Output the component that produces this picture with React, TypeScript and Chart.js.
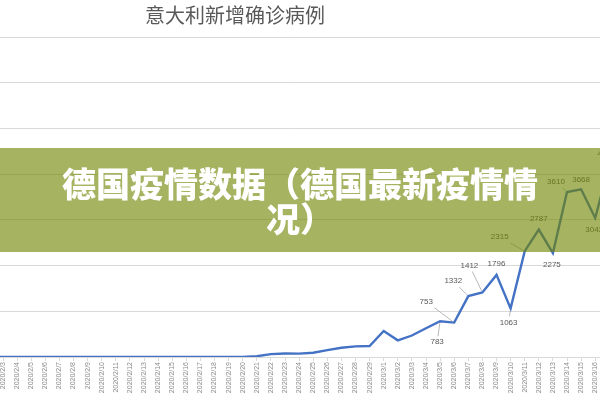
import React, { useEffect, useRef } from "react";
import { Chart, registerables } from "chart.js";

Chart.register(...registerables);

const chartTitle = "意大利新增确诊病例";
const bannerLine1 = "德国疫情数据（德国最新疫情情";
const bannerLine2 = "况）";

const dates = [
  "2020/2/1", "2020/2/2", "2020/2/3", "2020/2/4", "2020/2/5", "2020/2/6", "2020/2/7",
  "2020/2/8", "2020/2/9", "2020/2/10", "2020/2/11", "2020/2/12", "2020/2/13", "2020/2/14",
  "2020/2/15", "2020/2/16", "2020/2/17", "2020/2/18", "2020/2/19", "2020/2/20", "2020/2/21",
  "2020/2/22", "2020/2/23", "2020/2/24", "2020/2/25", "2020/2/26", "2020/2/27", "2020/2/28",
  "2020/2/29", "2020/3/1", "2020/3/2", "2020/3/3", "2020/3/4", "2020/3/5", "2020/3/6",
  "2020/3/7", "2020/3/8", "2020/3/9", "2020/3/10", "2020/3/11", "2020/3/12", "2020/3/13",
  "2020/3/14", "2020/3/15", "2020/3/16", "2020/3/17",
];

const newCases = [
  0, 0, 0, 0, 0, 0, 0,
  0, 0, 0, 0, 0, 0, 0,
  0, 0, 0, 0, 0, 0, 17,
  62, 76, 74, 93, 150, 202, 233,
  240, 570, 365, 470, 630, 783, 753,
  1332, 1412, 1796, 1063, 2315, 2787, 2275,
  3610, 3668, 3042, 4207,
];

const yTicks = [0, 1000, 2000, 3000, 4000, 5000, 6000, 7000];

// label placement (dx, dy from the point to the label centre), style only
const labelPlacement: Record<string, [number, number]> = {
  "2020/3/5": [-3, 21],
  "2020/3/6": [-28, -21],
  "2020/3/7": [-15, -15],
  "2020/3/8": [-13, -27],
  "2020/3/9": [0, -11],
  "2020/3/10": [-2, 14],
  "2020/3/11": [-25, -14],
  "2020/3/12": [0, -11],
  "2020/3/13": [-1, 12],
  "2020/3/14": [-11, -10],
  "2020/3/15": [0, -10],
  "2020/3/16": [-1, 12],
  "2020/3/17": [-3, -11],
};

const CANVAS_LEFT = -40;
const CANVAS_W = 680;
const CANVAS_H = 407;

const valueLabels = {
  id: "valueLabels",
  afterDatasetsDraw(chart: any) {
    const ctx = chart.ctx;
    const meta = chart.getDatasetMeta(0);
    ctx.save();
    ctx.font = '8px "Liberation Sans"';
    ctx.textAlign = "center";
    ctx.textBaseline = "middle";
    dates.forEach((d, i) => {
      const off = labelPlacement[d];
      if (!off) return;
      const pt = meta.data[i];
      if (!pt) return;
      const tx = pt.x + off[0];
      const ty = pt.y + off[1];
      const text = String(newCases[i]);
      const w = ctx.measureText(text).width;
      const dist = Math.hypot(off[0], off[1]);
      if (dist > 14) {
        const vx = pt.x - tx;
        const vy = pt.y - ty;
        const tX = vx !== 0 ? (w / 2 + 2) / Math.abs(vx) : Infinity;
        const tY = vy !== 0 ? 6 / Math.abs(vy) : Infinity;
        const t = Math.min(tX, tY);
        const sx = tx + vx * t;
        const sy = ty + vy * t;
        const ex = pt.x - (vx / dist) * 2;
        const ey = pt.y - (vy / dist) * 2;
        ctx.strokeStyle = "#a6a6a6";
        ctx.lineWidth = 0.8;
        ctx.beginPath();
        ctx.moveTo(sx, sy);
        ctx.lineTo(ex, ey);
        ctx.stroke();
      }
      ctx.fillStyle = "#595959";
      ctx.fillText(text, tx, ty);
    });
    ctx.restore();
  },
};

export default function App() {
  const canvasRef = useRef<HTMLCanvasElement | null>(null);

  useEffect(() => {
    if (!canvasRef.current) return;
    const chart = new Chart(canvasRef.current, {
      type: "line",
      data: {
        labels: dates,
        datasets: [
          {
            label: chartTitle,
            data: newCases,
            borderColor: "#4472C4",
            backgroundColor: "#4472C4",
            borderWidth: 2.4,
            pointRadius: 0,
            tension: 0,
            fill: false,
          },
        ],
      },
      options: {
        animation: false,
        responsive: false,
        devicePixelRatio: 1,
        layout: { padding: { left: 14.8, right: 30.7, top: 37, bottom: 0 } },
        plugins: {
          legend: { display: false },
          tooltip: { enabled: false },
          title: { display: false },
        },
        scales: {
          x: {
            grid: { drawOnChartArea: false, drawTicks: true, tickLength: 4, color: "#d9d9d9" },
            border: { color: "#d9d9d9" },
            ticks: {
              autoSkip: false,
              minRotation: 90,
              maxRotation: 90,
              padding: 1,
              color: "#8c8c8c",
              font: { size: 7, family: "Liberation Sans" },
            },
            afterFit: (s: any) => {
              s.height = 50;
            },
          },
          y: {
            min: 0,
            max: 7000,
            afterBuildTicks: (s: any) => {
              s.ticks = yTicks.map((v) => ({ value: v }));
            },
            ticks: { display: false },
            grid: { color: "#d9d9d9", drawTicks: false, lineWidth: 1 },
            border: { display: false },
            afterFit: (s: any) => {
              s.width = 0;
            },
          },
        },
      },
      plugins: [valueLabels],
    });
    return () => chart.destroy();
  }, []);

  return (
    <div
      style={{
        position: "absolute",
        left: 0,
        top: 0,
        width: 600,
        height: 400,
        overflow: "hidden",
        background: "#ffffff",
      }}
    >
      <div
        style={{
          position: "absolute",
          left: CANVAS_LEFT,
          top: 0,
          width: CANVAS_W,
          height: CANVAS_H,
        }}
      >
        <canvas
          ref={canvasRef}
          width={CANVAS_W}
          height={CANVAS_H}
          style={{ width: CANVAS_W, height: CANVAS_H, display: "block" }}
        />
      </div>
      <div
        style={{
          position: "absolute",
          left: 135,
          top: 2,
          width: 200,
          textAlign: "center",
          fontFamily: '"Noto Sans CJK SC", sans-serif',
          fontSize: 20,
          lineHeight: "26px",
          color: "#595959",
          whiteSpace: "nowrap",
        }}
      >
        {chartTitle}
      </div>
      <div
        style={{
          position: "absolute",
          left: 0,
          top: 148,
          width: 600,
          height: 104,
          background: "rgba(112, 133, 0, 0.62)",
          display: "flex",
          alignItems: "center",
          justifyContent: "center",
        }}
      >
        <div
          style={{
            textAlign: "center",
            color: "#ffffff",
            fontFamily: '"Noto Sans CJK SC", sans-serif',
            fontWeight: 900,
            fontSize: 34,
            lineHeight: "35px",
            whiteSpace: "nowrap",
          }}
        >
          {bannerLine1}
          <br />
          {bannerLine2}
        </div>
      </div>
    </div>
  );
}
